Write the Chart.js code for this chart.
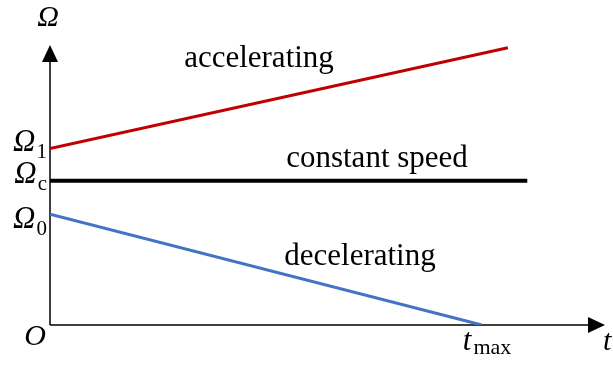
<!DOCTYPE html>
<html>
<head>
<meta charset="utf-8">
<script src="https://cdn.jsdelivr.net/npm/chart.js@4"></script>
<style>
  html, body { margin: 0; padding: 0; background: #fff; }
  #wrap { width: 613px; height: 367px; position: relative; }
</style>
</head>
<body>
<div id="wrap"><canvas id="omegaChart"></canvas></div>
<script>
// axis extents (data units)
const tEnd = 10
const omegaEnd = 10

// the three speed profiles
const accelT = [0, 8.25]
const accelOmega = [6.3, 9.9]
const constT = [0, 8.6]
const constOmega = [5.15, 5.15]
const decelT = [0, 7.78]
const decelOmega = [3.96, 0]

const seriesNames = ['accelerating', 'constant speed', 'decelerating']

// marked values on the Ω axis
const omegaTicks = [6.3, 5.15, 3.96]
const omegaSubs = ['1', 'c', '0']
const tMax = decelT[1]

const toPoints = (xs, ys) => xs.map((v, i) => ({x: v, y: ys[i]}))

const data = {
    datasets: [
        {label: seriesNames[0], data: toPoints(accelT, accelOmega), borderColor: '#C00000', borderWidth: 3},
        {label: seriesNames[1], data: toPoints(constT, constOmega), borderColor: '#000000', borderWidth: 4},
        {label: seriesNames[2], data: toPoints(decelT, decelOmega), borderColor: '#4472C4', borderWidth: 3}
    ]
}

const SERIF = '"Liberation Serif", "Times New Roman", serif'

// draws "Ω" in italic with an upright subscript, right edge at xr
function omegaLabel(ctx, sub, xr, base) {
    ctx.font = 'italic 31px ' + SERIF
    const wMain = ctx.measureText('Ω').width
    ctx.font = '21px ' + SERIF
    const wSub = ctx.measureText(sub).width
    const left = xr - wMain - wSub - 1
    ctx.textAlign = 'left'
    ctx.font = 'italic 31px ' + SERIF
    ctx.fillText('Ω', left, base)
    ctx.font = '21px ' + SERIF
    ctx.fillText(sub, left + wMain + 1, base + 7)
}

const axesPlugin = {
    id: 'axesPlugin',
    beforeDatasetsDraw(chart) {
        const {ctx, scales: {x, y}} = chart
        const x0 = x.getPixelForValue(0)
        const y0 = y.getPixelForValue(0)
        const xe = x.getPixelForValue(tEnd)
        const ye = y.getPixelForValue(omegaEnd)
        ctx.save()
        ctx.strokeStyle = '#000'
        ctx.fillStyle = '#000'
        ctx.lineWidth = 1.5
        ctx.beginPath()
        ctx.moveTo(x0, y0)
        ctx.lineTo(xe - 12, y0)
        ctx.moveTo(x0, y0)
        ctx.lineTo(x0, ye + 12)
        ctx.stroke()
        // arrow heads
        ctx.beginPath()
        ctx.moveTo(xe, y0)
        ctx.lineTo(xe - 17, y0 - 8)
        ctx.lineTo(xe - 17, y0 + 8)
        ctx.closePath()
        ctx.fill()
        ctx.beginPath()
        ctx.moveTo(x0, ye)
        ctx.lineTo(x0 - 8, ye + 17)
        ctx.lineTo(x0 + 8, ye + 17)
        ctx.closePath()
        ctx.fill()
        ctx.restore()
    },
    afterDatasetsDraw(chart) {
        const {ctx, scales: {x, y}} = chart
        const x0 = x.getPixelForValue(0)
        const y0 = y.getPixelForValue(0)
        const xe = x.getPixelForValue(tEnd)
        const ye = y.getPixelForValue(omegaEnd)
        ctx.save()
        ctx.fillStyle = '#000'
        ctx.textBaseline = 'alphabetic'

        // series names
        ctx.font = '31px ' + SERIF
        ctx.textAlign = 'center'
        ctx.fillText(seriesNames[0], 259, 67)
        ctx.fillText(seriesNames[1], 377, 167)
        ctx.fillText(seriesNames[2], 360, 265)

        // Ω axis title and origin
        ctx.font = 'italic 30px ' + SERIF
        ctx.textAlign = 'center'
        ctx.fillText('Ω', x0 - 2, ye - 19)
        ctx.textAlign = 'right'
        ctx.fillText('O', x0 - 4, y0 + 20)
        ctx.textAlign = 'left'
        ctx.fillText('t', xe - 2, y0 + 25)

        // marked Ω values (the lowest one sits below its line)
        const shift = [2, 2, 14]
        omegaTicks.forEach((v, i) => {
            omegaLabel(ctx, omegaSubs[i], x0 - 3, y.getPixelForValue(v) + shift[i])
        })

        // t_max under the axis
        const xt = x.getPixelForValue(tMax)
        ctx.font = 'italic 31px ' + SERIF
        ctx.textAlign = 'left'
        const wt = ctx.measureText('t').width
        ctx.fillText('t', xt - 19, y0 + 25)
        ctx.font = '22px ' + SERIF
        ctx.fillText('max', xt - 17 + wt, y0 + 29)
        ctx.restore()
    }
}

const config = {
    type: 'scatter',
    data,
    options: {
        responsive: true,
        maintainAspectRatio: false,
        animation: false,
        showLine: true,
        elements: {point: {radius: 0, hoverRadius: 0}, line: {borderCapStyle: 'butt'}},
        layout: {padding: {left: 50, right: 8, top: 45, bottom: 42}},
        scales: {
            x: {type: 'linear', min: 0, max: tEnd, display: false},
            y: {type: 'linear', min: 0, max: omegaEnd, display: false}
        },
        plugins: {legend: {display: false}, tooltip: {enabled: false}}
    },
    plugins: [axesPlugin]
}

const myChart = new Chart(document.getElementById('omegaChart'), config)
</script>
</body>
</html>
